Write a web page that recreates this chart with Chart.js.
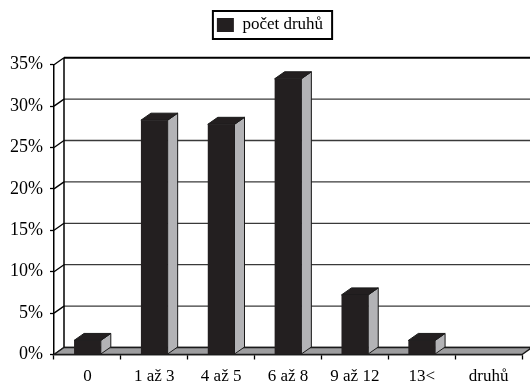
<!DOCTYPE html>
<html>
<head>
<meta charset="utf-8">
<title>počet druhů</title>
<script src="https://cdn.jsdelivr.net/npm/chart.js@4/dist/chart.umd.min.js"></script>
<style>
  html, body { margin: 0; padding: 0; background: #fff; }
  #wrap { width: 530px; height: 386px; }
</style>
</head>
<body>
<div id="wrap"><canvas id="c" width="530" height="386"></canvas></div>
<script>
// Share of localities by number of species (percent)
const categories = ['0', '1 až 3', '4 až 5', '6 až 8', '9 až 12', '13<', 'druhů'];
const seriesName = 'počet druhů';
const shares = [1.7, 28.3, 27.8, 33.3, 7.2, 1.7, null];
const yTicks = [0, 5, 10, 15, 20, 25, 30, 35];

const FONT = 'Liberation Serif';
const INK = '#231f20';
const SIDE = '#b3b3b6';
const FLOOR = '#9d9d9f';
const DEPTH_X = 10, DEPTH_Y = 7;
const LEGEND_TOP = 6.5, LEGEND_SHIFT_X = 9;

// Pseudo-3D walls, floor and bar side/top faces, built on the chart's scales
const depthPlugin = {
  id: 'depth',
  afterLayout(chart) {
    // lift the legend to the top of the canvas, away from the plot
    const lg = chart.legend;
    if (!lg) return;
    const dy = LEGEND_TOP - lg.top;
    lg.top += dy; lg.bottom += dy;
    lg.left += LEGEND_SHIFT_X; lg.right += LEGEND_SHIFT_X;
  },
  beforeDatasetsDraw(chart) {
    const { ctx, chartArea: { left, right, top, bottom }, scales: { x, y } } = chart;
    ctx.save();
    // back wall grid lines and left wall connectors
    yTicks.forEach(v => {
      const py = y.getPixelForValue(v);
      const isTop = v === yTicks[yTicks.length - 1];
      ctx.strokeStyle = isTop ? '#000' : '#3a3a3a';
      ctx.lineWidth = isTop ? 2 : 1.3;
      ctx.beginPath();
      ctx.moveTo(left + DEPTH_X, py - DEPTH_Y);
      ctx.lineTo(right + DEPTH_X, py - DEPTH_Y);
      ctx.stroke();
      ctx.strokeStyle = '#000';
      ctx.lineWidth = 1.3;
      ctx.beginPath();
      ctx.moveTo(left, py);
      ctx.lineTo(left + DEPTH_X, py - DEPTH_Y);
      ctx.stroke();
    });
    // back edge of left wall
    ctx.strokeStyle = '#000';
    ctx.lineWidth = 1.5;
    ctx.beginPath();
    ctx.moveTo(left + DEPTH_X, top - DEPTH_Y);
    ctx.lineTo(left + DEPTH_X, bottom - DEPTH_Y);
    ctx.stroke();
    // floor
    ctx.fillStyle = FLOOR;
    ctx.strokeStyle = '#1a1a1a';
    ctx.lineWidth = 1.3;
    ctx.beginPath();
    ctx.moveTo(left, bottom);
    ctx.lineTo(right, bottom);
    ctx.lineTo(right + DEPTH_X, bottom - DEPTH_Y);
    ctx.lineTo(left + DEPTH_X, bottom - DEPTH_Y);
    ctx.closePath();
    ctx.fill();
    ctx.stroke();
    // side and top faces of each bar
    const meta = chart.getDatasetMeta(0);
    meta.data.forEach((bar, i) => {
      if (shares[i] == null) return;
      const { x: cx, y: ty, base, width } = bar.getProps(['x', 'y', 'base', 'width'], true);
      const x0 = cx - width / 2, x1 = cx + width / 2;
      ctx.lineWidth = 1;
      ctx.strokeStyle = '#1a1a1a';
      // side
      ctx.fillStyle = SIDE;
      ctx.beginPath();
      ctx.moveTo(x1, ty);
      ctx.lineTo(x1 + DEPTH_X, ty - DEPTH_Y);
      ctx.lineTo(x1 + DEPTH_X, base - DEPTH_Y);
      ctx.lineTo(x1, base);
      ctx.closePath();
      ctx.fill();
      ctx.stroke();
      // top
      ctx.fillStyle = INK;
      ctx.beginPath();
      ctx.moveTo(x0, ty);
      ctx.lineTo(x0 + DEPTH_X, ty - DEPTH_Y);
      ctx.lineTo(x1 + DEPTH_X, ty - DEPTH_Y);
      ctx.lineTo(x1, ty);
      ctx.closePath();
      ctx.fill();
      ctx.stroke();
    });
    ctx.restore();
  },
  afterDraw(chart) {
    // frame round the legend
    const lg = chart.legend;
    if (!lg || !lg.legendHitBoxes || !lg.legendHitBoxes.length) return;
    const hb = lg.legendHitBoxes[0];
    const cy = hb.top + hb.height / 2;
    const { ctx } = chart;
    ctx.save();
    ctx.strokeStyle = '#000';
    ctx.lineWidth = 2;
    ctx.strokeRect(hb.left - 4, cy - 14, hb.width + 13, 28);
    ctx.restore();
  }
};

new Chart(document.getElementById('c'), {
  type: 'bar',
  data: {
    labels: categories,
    datasets: [{
      label: seriesName,
      data: shares,
      backgroundColor: INK,
      borderColor: INK,
      borderWidth: 0,
      categoryPercentage: 1,
      barPercentage: 0.4
    }]
  },
  options: {
    responsive: false,
    animation: false,
    events: [],
    layout: { padding: { left: 0, right: 8, top: 0, bottom: 0 } },
    plugins: {
      tooltip: { enabled: false },
      legend: {
        position: 'top',
        labels: {
          color: '#000',
          font: { family: FONT, size: 17 },
          boxWidth: 17,
          boxHeight: 14,
          padding: 10
        }
      }
    },
    scales: {
      x: {
        offset: true,
        grid: { display: true, offset: true, drawOnChartArea: false, drawTicks: true, tickLength: 5, tickColor: '#000', tickWidth: 1.3 },
        border: { display: true, color: '#000', width: 1.3 },
        ticks: { color: '#000', font: { family: FONT, size: 17 }, padding: 7, maxRotation: 0, autoSkip: false },
        afterFit(scale) { scale.height = 31.5; }
      },
      y: {
        min: 0,
        max: 35,
        afterBuildTicks(scale) { scale.ticks = yTicks.map(v => ({ value: v })); },
        grid: { drawOnChartArea: false, drawTicks: true, tickLength: 4, tickColor: '#000', tickWidth: 1.3 },
        border: { display: true, color: '#000', width: 1.5 },
        ticks: { color: '#000', font: { family: FONT, size: 18 }, padding: 7, callback: v => v + '%' },
        afterFit(scale) { scale.width = 54; scale.paddingTop = 64.7; }
      }
    }
  },
  plugins: [depthPlugin]
});
</script>
</body>
</html>
